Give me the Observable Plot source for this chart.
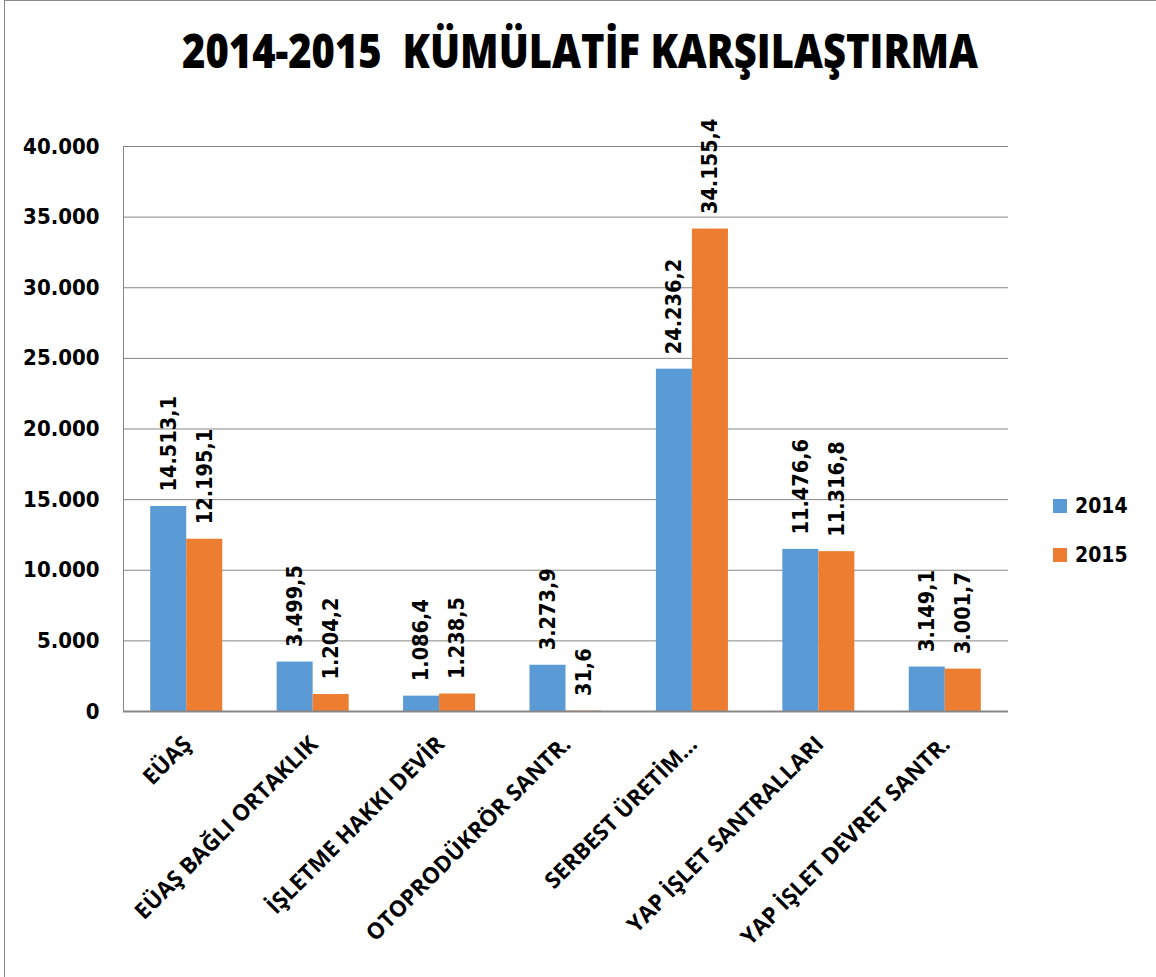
<!DOCTYPE html>
<html>
<head>
<meta charset="utf-8">
<script src="https://cdn.jsdelivr.net/npm/d3@7"></script>
<script src="https://cdn.jsdelivr.net/npm/@observablehq/plot@0.6"></script>
<style>
  html, body { margin: 0; padding: 0; background: #fff; }
  #wrap { position: relative; width: 1156px; height: 977px; overflow: hidden; background: #fff; }
  #border { position: absolute; left: 4px; top: 0; width: 1152px; height: 977px; border-left: 1px solid #888; border-top: 1px solid #888; box-sizing: border-box; pointer-events: none; }
  #title { position: absolute; left: 0; top: 0; width: 1156px; height: 100px; }
  #chart { position: absolute; left: 0; top: 100px; }
  .legend { position: absolute; left: 1053px; font-family: "DejaVu Sans Condensed", "DejaVu Sans", sans-serif; font-weight: bold; font-size: 21px; color: #000; display: flex; align-items: center; height: 24px; }
  .legend .sw { width: 14px; height: 14px; margin-right: 8px; }
</style>
</head>
<body>
<div id="wrap">
  <svg id="title" width="1156" height="100">
    <text x="580" y="68" text-anchor="middle" textLength="796" lengthAdjust="spacingAndGlyphs"
      style="white-space:pre; font-family:'Open Sans', sans-serif; font-weight:800; font-size:48px; fill:#000;">2014-2015  KÜMÜLATİF KARŞILAŞTIRMA</text>
  </svg>
  <div id="chart"></div>
  <div class="legend" id="lg1" style="top:494px"><div class="sw" style="background:#5B9BD5"></div><span>2014</span></div>
  <div class="legend" id="lg2" style="top:543px"><div class="sw" style="background:#ED7D31"></div><span>2015</span></div>
  <div id="border"></div>
</div>
<script>
const categories = ["EÜAŞ", "EÜAŞ BAĞLI ORTAKLIK", "İŞLETME HAKKI DEVİR", "OTOPRODÜKRÖR SANTR.", "SERBEST ÜRETİM...", "YAP İŞLET SANTRALLARI", "YAP İŞLET DEVRET SANTR."];
const values2014 = [14513.1, 3499.5, 1086.4, 3273.9, 24236.2, 11476.6, 3149.1];
const values2015 = [12195.1, 1204.2, 1238.5, 31.6, 34155.4, 11316.8, 3001.7];
const yTicks = [0, 5000, 10000, 15000, 20000, 25000, 30000, 35000, 40000];
const seriesNames = ["2014", "2015"];
const colors = ["#5B9BD5", "#ED7D31"];

const tr = d3.formatLocale({decimal: ",", thousands: ".", grouping: [3], currency: ["", ""]});
const fmtInt = tr.format(",d");
const fmtVal = tr.format(",.1f");

const rows = categories.map((c, i) => ({category: c, v2014: values2014[i], v2015: values2015[i]}));
const numFont = "'DejaVu Sans Condensed', 'DejaVu Sans', sans-serif";

const chart = Plot.plot({
  width: 1156,
  height: 877,
  marginTop: 46,
  marginBottom: 266,
  marginLeft: 123,
  marginRight: 148,
  style: {fontFamily: numFont, background: "transparent"},
  x: {domain: categories, paddingInner: 0.715, paddingOuter: 0.3576, round: false, axis: null},
  y: {domain: [0, 40000], axis: null},
  marks: [
    Plot.gridY(yTicks, {stroke: "#868686", strokeOpacity: 1, strokeWidth: 1}),
    Plot.frame({anchor: "left", stroke: "#868686"}),
    Plot.barY(rows, {x: "category", y: "v2014", fill: colors[0], dx: -18}),
    Plot.barY(rows, {x: "category", y: "v2015", fill: colors[1], dx: 18}),
    Plot.ruleY([0], {stroke: "#868686", strokeWidth: 2}),
    Plot.axisY(yTicks, {tickSize: 0, tickPadding: 24, tickFormat: fmtInt, fontSize: 22, fontWeight: "bold", fontFamily: numFont, label: null}),
    Plot.text(rows, {x: "category", y: "v2014", text: d => fmtVal(d.v2014), dx: -18, dy: -15, rotate: -90, textAnchor: "start", lineAnchor: "middle", fontSize: 21.5, fontWeight: "bold", fontFamily: numFont, fill: "#000"}),
    Plot.text(rows, {x: "category", y: "v2015", text: d => fmtVal(d.v2015), dx: 18, dy: -15, rotate: -90, textAnchor: "start", lineAnchor: "middle", fontSize: 21.5, fontWeight: "bold", fontFamily: numFont, fill: "#000"}),
    Plot.text(categories, {x: d => d, frameAnchor: "bottom", rotate: -45, textAnchor: "end", lineAnchor: "middle", dx: 1, dy: 29, fontSize: 22.5, fontWeight: 700, fontFamily: "'Open Sans', sans-serif", fill: "#000"})
  ]
});
document.getElementById("chart").appendChild(chart);
</script>
</body>
</html>
